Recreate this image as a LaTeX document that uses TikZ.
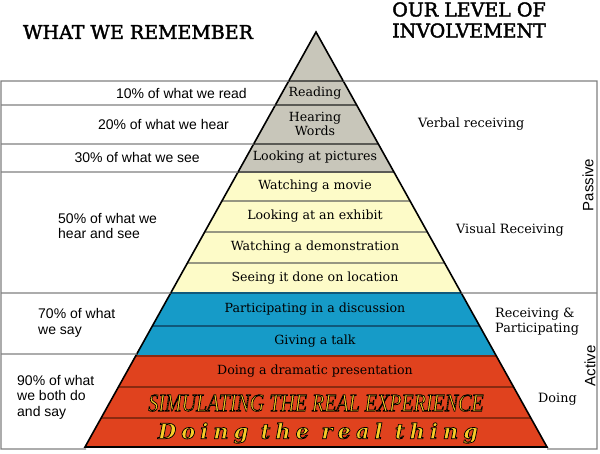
\documentclass[tikz,border=0pt]{standalone}
\usepackage{fontspec}
\usepackage{graphicx}
\usetikzlibrary{calc}
\setmainfont{DejaVu Serif}
\newfontfamily\sansf{Liberation Sans}
\newfontfamily\simfont{Liberation Serif}
\newfontfamily\spacedf[LetterSpace=24]{DejaVu Serif}
\definecolor{graybg}{RGB}{200,198,186}
\definecolor{yellowbg}{RGB}{253,251,200}
\definecolor{bluebg}{RGB}{22,155,200}
\definecolor{redbg}{RGB}{224,66,30}
\definecolor{txtyellow}{RGB}{248,204,40}
\definecolor{boxgray}{RGB}{128,128,128}
\definecolor{grayline}{RGB}{90,90,85}
\definecolor{yline}{RGB}{150,150,130}
\definecolor{bline}{RGB}{16,88,122}
\definecolor{rline}{RGB}{138,42,16}
% yellow letters with a black stroked outline (fake bold stroke in black)
\newcommand\outl[1]{{\color{txtyellow}\special{pdf:literal direct 0 0 0 RG}#1}}
\begin{document}
\begin{tikzpicture}[x=1pt,y=-1pt,
  pyr/.style={font=\fontsize{12.6}{14}\selectfont, align=center, inner sep=0pt},
  lab/.style={font=\sansf\fontsize{14}{15.5}\selectfont, align=left, inner sep=0pt},
  rlab/.style={font=\fontsize{12.8}{15}\selectfont, align=left, inner sep=0pt},
  side/.style={font=\sansf\fontsize{15}{17}\selectfont, rotate=90, inner sep=0pt},
  head/.style={font=\fontsize{19}{21}\selectfont\addfontfeature{FakeBold=2}, align=center, inner sep=0pt},
  boxline/.style={draw=boxgray, line width=1.4pt},
]
\useasboundingbox (0,0) rectangle (600,453);
\fill[white] (0,0) rectangle (600,453);
\coordinate (apex) at (316,32);
\coordinate (bl) at (85,447);
\coordinate (br) at (547,447);
% pyramid bands
\begin{scope}
\clip (apex) -- (br) -- (bl) -- cycle;
\fill[graybg] (0,0) rectangle (600,172);
\fill[yellowbg] (0,172) rectangle (600,293);
\fill[bluebg] (0,293) rectangle (600,356);
\fill[redbg] (0,356) rectangle (600,450);
\draw[grayline, line width=1.5pt] (0,81) -- (600,81) (0,105) -- (600,105) (0,144) -- (600,144) (0,172) -- (600,172);
\draw[yline, line width=1.3pt] (0,201) -- (600,201) (0,232) -- (600,232) (0,263) -- (600,263);
\draw[bline, line width=1.5pt] (0,293) -- (600,293) (0,326) -- (600,326);
\draw[rline, line width=1.5pt] (0,356) -- (600,356) (0,387) -- (600,387) (0,418) -- (600,418);
\end{scope}
\draw[black, line width=1.6pt, line join=miter] (apex) -- (br) -- (bl) -- cycle;
% left box
\draw[boxline] ($(apex)!{49/415}!(bl)$) -- (1,81) -- (1,449) -- (86,449);
\draw[boxline] (1,105) -- ($(apex)!{73/415}!(bl)$);
\draw[boxline] (1,144) -- ($(apex)!{112/415}!(bl)$);
\draw[boxline] (1,172) -- ($(apex)!{140/415}!(bl)$);
\draw[boxline] (1,293) -- ($(apex)!{261/415}!(bl)$);
\draw[boxline] (1,354) -- ($(apex)!{322/415}!(bl)$);
% right box
\draw[boxline] ($(apex)!{49/415}!(br)$) -- (597,81) -- (597,449) -- (547,449);
\draw[boxline] ($(apex)!{261/415}!(br)$) -- (597,293);
% headers
\node[head] (hl) at (138,32) {WHAT WE REMEMBER};
\node[head] (hr) at (469,20) {OUR LEVEL OF\\INVOLVEMENT};
% left labels
\node[lab, anchor=east] (l10) at (247,93) {10\% of what we read};
\node[lab, anchor=east] (l20) at (229,124) {20\% of what we hear};
\node[lab, anchor=east] (l30) at (200,157) {30\% of what we see};
\node[lab, anchor=west] (l50) at (58,226) {50\% of what we\\hear and see};
\node[lab, anchor=west] (l70) at (38,323) {70\% of what\\we say};
\node[lab, anchor=west] (l90) at (17,397) {90\% of what\\we both do\\and say};
% pyramid labels
\node[pyr] (p1) at (315,93) {Reading};
\node[pyr] (p2) at (315,124) {Hearing\\Words};
\node[pyr] (p3) at (315,157) {Looking at pictures};
\node[pyr] (p4) at (315,186) {Watching a movie};
\node[pyr] (p5) at (315,216) {Looking at an exhibit};
\node[pyr] (p6) at (315,247) {Watching a demonstration};
\node[pyr] (p7) at (315,278) {Seeing it done on location};
\node[pyr] (p8) at (315,309) {Participating in a discussion};
\node[pyr] (p9) at (315,341) {Giving a talk};
\node[pyr] (p10) at (315,371) {Doing a dramatic presentation};
\node[inner sep=0pt] (p11) at (316,403) {\outl{\scalebox{0.8}[1]{\simfont\itshape\fontsize{25}{25}\selectfont\addfontfeature{FakeBold=3}SIMULATING THE REAL EXPERIENCE}}};
\node[inner sep=0pt] (p12) at (318,433) {\outl{\spacedf\bfseries\itshape\fontsize{21}{21}\selectfont\addfontfeature{FakeBold=3.5}Doing the real thing}};
% right labels
\node[rlab, anchor=west] (r1) at (418,124) {Verbal receiving};
\node[rlab, anchor=west] (r2) at (456,230) {Visual Receiving};
\node[rlab, anchor=west] (r3) at (495,322) {Receiving \&\\Participating};
\node[rlab, anchor=west] (r4) at (538,399) {Doing};
\node[side] (s1) at (588,185) {Passive};
\node[side] (s2) at (590,366) {Active};
\end{tikzpicture}
\end{document}
